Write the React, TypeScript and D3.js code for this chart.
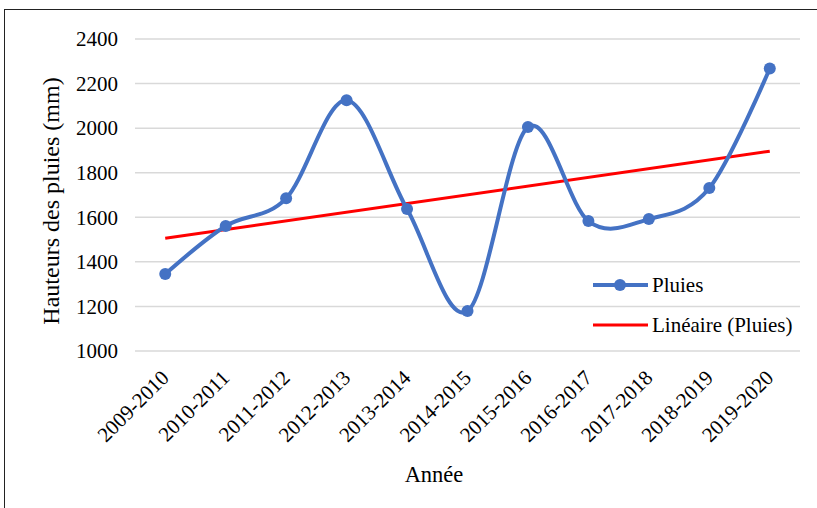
import React from "react";
import * as d3 from "d3";

const categories = [
  "2009-2010", "2010-2011", "2011-2012", "2012-2013", "2013-2014", "2014-2015",
  "2015-2016", "2016-2017", "2017-2018", "2018-2019", "2019-2020",
];
const pluies = [1345, 1561, 1685, 2125, 1637, 1179, 2005, 1583, 1592, 1731, 2268];
const yTicks = [1000, 1200, 1400, 1600, 1800, 2000, 2200, 2400];

const W = 817;
const H = 508;
const FONT = "'Liberation Serif', 'DejaVu Serif', serif";
const BLUE = "#4472C4";
const RED = "#FF0000";

function linearTrend(vals: number[]) {
  const n = vals.length;
  const xs = vals.map((_, i) => i);
  const mx = d3.mean(xs)!;
  const my = d3.mean(vals)!;
  let num = 0, den = 0;
  xs.forEach((x, i) => { num += (x - mx) * (vals[i] - my); den += (x - mx) ** 2; });
  const slope = num / den;
  const b = my - slope * mx;
  return [b, b + slope * (n - 1)];
}

export default function App() {
  const left = 135, right = 800, top = 39, bottom = 351;
  const x = d3.scaleBand<string>().domain(categories).range([left, right]);
  const cx = (c: string) => (x(c) as number) + x.bandwidth() / 2;
  const y = d3.scaleLinear().domain([1000, 2400]).range([bottom, top]);

  const pts: [number, number][] = categories.map((c, i) => [cx(c), y(pluies[i])]);
  const line = d3.line<[number, number]>().curve(d3.curveCardinal.tension(0));
  const trend = linearTrend(pluies);
  const trendPts: [number, number][] = [
    [cx(categories[0]), y(trend[0])],
    [cx(categories[categories.length - 1]), y(trend[1])],
  ];
  const ts = { fontFamily: FONT };

  return (
    <svg width={W} height={H} style={{ position: "absolute", left: 0, top: 0, background: "#fff", fontFamily: FONT }}>
      <rect x={0} y={0} width={W} height={H} fill="#fff" />
      <rect x={4.5} y={9.5} width={W + 10} height={H + 10} fill="none" stroke="#222" strokeWidth={1} />
      {yTicks.map((t) => (
        <g key={t}>
          <line x1={left} x2={right} y1={y(t)} y2={y(t)} stroke="#d9d9d9" strokeWidth={1.5} />
          <text x={118} y={y(t)} dy="0.35em" textAnchor="end" fontSize={21} fill="#000" style={ts}>{t}</text>
        </g>
      ))}
      {categories.map((c) => (
        <text key={c} transform={`translate(${cx(c) + 5},${bottom + 28}) rotate(-45)`}
          textAnchor="end" fontSize={21} fill="#000" style={ts}>{c}</text>
      ))}
      <path d={line(trendPts) || ""} stroke={RED} strokeWidth={3} fill="none" />
      <path d={line(pts) || ""} stroke={BLUE} strokeWidth={4} fill="none" strokeLinecap="round" />
      {pts.map((p, i) => (
        <circle key={i} cx={p[0]} cy={p[1]} r={6} fill={BLUE} />
      ))}
      <text transform={`translate(59,201) rotate(-90)`} textAnchor="middle"
        fontSize={24} fill="#000" style={ts}>Hauteurs des pluies (mm)</text>
      <text x={434} y={482} textAnchor="middle" fontSize={22.5} fill="#000" style={ts}>Année</text>
      <g>
        <line x1={593} x2={648} y1={285} y2={285} stroke={BLUE} strokeWidth={4} />
        <circle cx={620} cy={285} r={6} fill={BLUE} />
        <text x={652} y={292} fontSize={21} fill="#000" style={ts}>Pluies</text>
        <line x1={593} x2={648} y1={325} y2={325} stroke={RED} strokeWidth={3} />
        <text x={652} y={332} fontSize={21} fill="#000" style={ts}>Linéaire (Pluies)</text>
      </g>
    </svg>
  );
}
